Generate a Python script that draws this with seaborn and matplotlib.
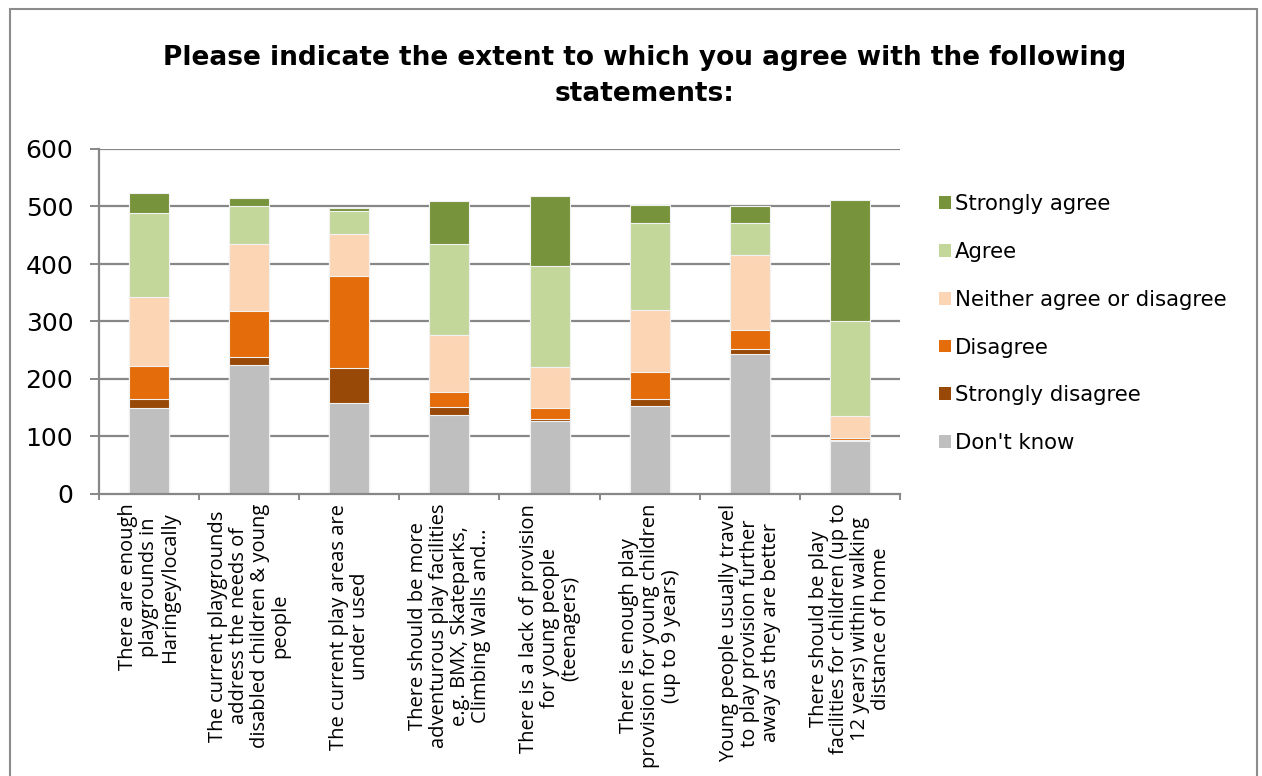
import numpy as np
import pandas as pd
import matplotlib
matplotlib.use("Agg")
import matplotlib.pyplot as plt
from matplotlib.patches import Patch, Rectangle
import seaborn as sns

# Survey statements (x categories), wrapped as they appear under the axis
statements = [
    "There are enough\nplaygrounds in\nHaringey/locally",
    "The current playgrounds\naddress the needs of\ndisabled children & young\npeople",
    "The current play areas are\nunder used",
    "There should be more\nadventurous play facilities\ne.g. BMX, Skateparks,\nClimbing Walls and...",
    "There is a lack of provision\nfor young people\n(teenagers)",
    "There is enough play\nprovision for young children\n(up to 9 years)",
    "Young people usually travel\nto play provision further\naway as they are better",
    "There should be play\nfacilities for children (up to\n12 years) within walking\ndistance of home",
]

# Response counts per statement, bottom of the stack first
dont_know         = [149, 224, 159, 137, 127, 153, 243, 93]
strongly_disagree = [16, 14, 60, 15, 3, 12, 9, 1]
disagree          = [58, 81, 160, 25, 20, 48, 34, 4]
neither           = [120, 115, 74, 99, 71, 107, 129, 38]
agree             = [145, 67, 40, 158, 176, 152, 57, 165]
strongly_agree    = [35, 13, 5, 75, 121, 30, 29, 210]

series = ["Don't know", "Strongly disagree", "Disagree",
          "Neither agree or disagree", "Agree", "Strongly agree"]
colors = ["#BFBFBF", "#984807", "#E46C0A", "#FCD5B5", "#C4D79B", "#77933C"]
yticks = [0, 100, 200, 300, 400, 500, 600]

values = np.array([dont_know, strongly_disagree, disagree,
                   neither, agree, strongly_agree], dtype=float)
cumulative = np.cumsum(values, axis=0)

sns.set_theme(style="white")
plt.rcParams["font.family"] = ["DejaVu Sans"]
plt.rcParams["text.color"] = "black"

fig = plt.figure(figsize=(12.62, 7.76), dpi=100)
ax = fig.add_axes([99 / 1262, 1 - 494 / 776, 801 / 1262, 345 / 776])

cats = [f"c{i}" for i in range(len(statements))]
# Draw the stacks from the top layer down so each lower layer covers the one above
for level in range(len(series) - 1, -1, -1):
    df = pd.DataFrame({"statement": cats, "total": cumulative[level]})
    sns.barplot(data=df, x="statement", y="total", order=cats,
                color=colors[level], width=0.4, saturation=1,
                edgecolor="#F2F2F2", linewidth=0.8, ax=ax, zorder=3)

ax.set_xlim(-0.5, len(statements) - 0.5)
ax.set_ylim(0, 600)
ax.set_yticks(yticks)
ax.set_yticklabels([str(t) for t in yticks])
ax.set_xlabel("")
ax.set_ylabel("")

grid_col = "#878787"
for t in yticks[1:]:
    ax.axhline(t, color=grid_col, linewidth=1.6, zorder=1)

for side in ["top", "right"]:
    ax.spines[side].set_visible(False)
for side in ["left", "bottom"]:
    ax.spines[side].set_color(grid_col)
    ax.spines[side].set_linewidth(1.6)
    ax.spines[side].set_zorder(4)

ax.tick_params(axis="y", which="major", left=True, length=6.5, width=1.4,
               color=grid_col, labelsize=18, pad=12, labelcolor="#000000")

# Category labels on major ticks, boundary tick marks on minor ticks
ax.set_xticks(np.arange(len(statements)))
ax.set_xticklabels(statements, rotation=90, ha="center", va="top",
                   multialignment="center", fontsize=14.5, family="Open Sans",
                   linespacing=1.06, color="#000000")
ax.set_xticks(np.arange(-0.5, len(statements)), minor=True)
ax.tick_params(axis="x", which="major", bottom=False, length=0, pad=7)
ax.tick_params(axis="x", which="minor", bottom=True, length=4.5, width=1.4,
               color=grid_col)

fig.text(0.511, 1 - 76 / 776,
         "Please indicate the extent to which you agree with the following\nstatements:",
         ha="center", va="center", fontsize=19, fontweight="bold",
         linespacing=1.46, color="#000000")

handles = [Patch(facecolor=colors[i], edgecolor="none", label=series[i])
           for i in range(len(series) - 1, -1, -1)]
fig.legend(handles=handles, loc="upper left", bbox_to_anchor=(939 / 1262, 1 - 194 / 776),
           frameon=False, fontsize=15.3, handlelength=0.56, handleheight=0.56,
           handletextpad=0.2, labelspacing=1.31, borderpad=0, borderaxespad=0,
           labelcolor="black")

# Outer chart border
fig.patches.append(Rectangle((10 / 1262, -0.05), 1247 / 1262, 1.05 - 9 / 776,
                             transform=fig.transFigure, fill=False,
                             edgecolor="#8C8C8C", linewidth=1.5))

fig.savefig("out.png", dpi=100, facecolor="white")
